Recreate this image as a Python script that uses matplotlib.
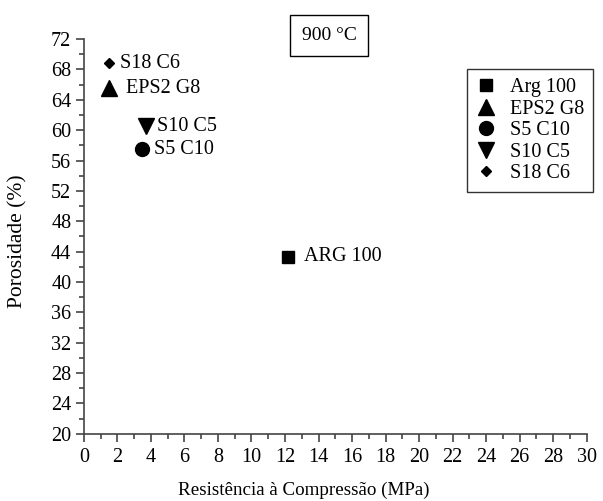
import matplotlib
matplotlib.use('Agg')
import matplotlib.pyplot as plt
from matplotlib.ticker import MultipleLocator

plt.rcParams['font.family'] = ['Liberation Serif', 'DejaVu Serif']

# data
names = ['Arg 100', 'EPS2 G8', 'S5 C10', 'S10 C5', 'S18 C6']
point_labels = ['ARG 100', 'EPS2 G8', 'S5 C10', 'S10 C5', 'S18 C6']
resistencia = [12.2, 1.5, 3.5, 3.7, 1.5]
porosidade = [43.3, 65.5, 57.5, 60.5, 68.8]
markers = ['s', '^', 'o', 'v', 'D']
sizes = [9, 11, 10, 11, 5]
label_dx = [11, 12, 8, 8, 8]

fig = plt.figure(figsize=(6.03, 5.01), dpi=100)
ax = fig.add_axes([0.139, 0.134, 0.834, 0.788])

for x, y, m, s, n, pl, dx in zip(resistencia, porosidade, markers, sizes,
                                  names, point_labels, label_dx):
    ax.plot(x, y, marker=m, color='black', markersize=s, linestyle='none',
            label=n)
    ax.annotate(pl, (x, y), xytext=(dx, 0), textcoords='offset points',
                va='center', ha='left', fontsize=14.5)

ax.set_xlim(0, 30)
ax.set_ylim(20, 72)
ax.xaxis.set_major_locator(MultipleLocator(2))
ax.xaxis.set_minor_locator(MultipleLocator(1))
ax.yaxis.set_major_locator(MultipleLocator(4))
ax.yaxis.set_minor_locator(MultipleLocator(2))

for side in ['top', 'right']:
    ax.spines[side].set_visible(False)
for side in ['left', 'bottom']:
    ax.spines[side].set_color('#444444')
    ax.spines[side].set_linewidth(1.2)

ax.tick_params(which='major', direction='out', length=6, width=1.2,
               color='#444444', labelsize=14.5, pad=3)
ax.tick_params(axis='x', which='major', pad=4)
ax.tick_params(which='minor', direction='out', length=3.5, width=1.2,
               color='#444444')

ax.set_xlabel('Resistência à Compressão (MPa)', fontsize=13.7)
ax.set_ylabel('Porosidade (%)', fontsize=15.5)
ax.xaxis.set_label_coords(0.437, -0.122)
ax.yaxis.set_label_coords(-0.113, 0.487)

fig.text(0.546, 0.929, '900 °C', fontsize=14, ha='center', va='center',
         bbox=dict(boxstyle='square,pad=0.6', fc='white', ec='black', lw=1))

leg = ax.legend(loc='upper right', bbox_to_anchor=(0.984, 0.862),
                bbox_transform=fig.transFigure, fontsize=14.5, frameon=True,
                fancybox=False, edgecolor='black', handlelength=1,
                handletextpad=0.7, labelspacing=0.12, borderpad=0.45,
                borderaxespad=0, numpoints=1)
leg.get_frame().set_linewidth(1.0)

fig.savefig('out.png', dpi=100, facecolor='white')
